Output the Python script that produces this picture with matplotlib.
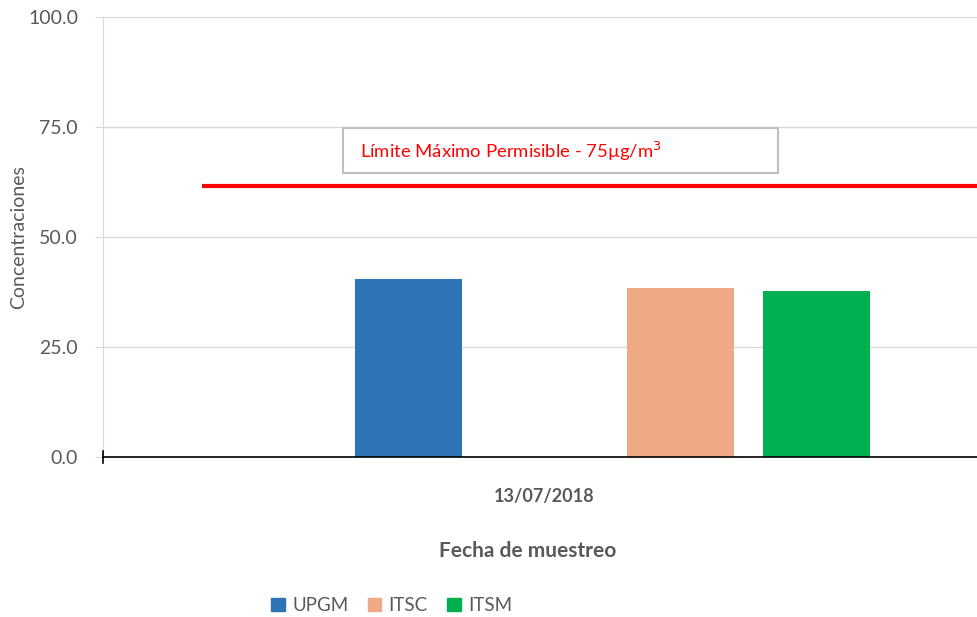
#!/usr/bin/env python3
"""Concentraciones por estación - 13/07/2018"""
import numpy as np
import matplotlib
matplotlib.use("Agg")
import matplotlib.pyplot as plt
from matplotlib.patches import Patch

plt.rcParams['font.family'] = ['Lato', 'DejaVu Sans']

# data
fecha = ['13/07/2018']
estaciones = ['UPGM', 'ITSC', 'ITSM']
valores = [40.5, 38.4, 37.7]
colores = ['#2E75B6', '#F0A987', '#00B050']
# the original has 5 series slots, two of them empty
slots = [1, 3, 4]
n_slots = 5
limite = 61.6
limite_texto = 'Límite Máximo Permisible - 75µg/m$^3$'
yticks = [0, 25, 50, 75, 100]

grey = '#595959'

fig = plt.figure(figsize=(9.77, 6.17), dpi=100)
ax = fig.add_axes([103 / 977, 1 - 457 / 617, 874 / 977, 440 / 617])

slot_w = 0.1556
bar_w = 0.1224
for name, val, col, s in zip(estaciones, valores, colores, slots):
    x = (s - (n_slots - 1) / 2) * slot_w + 0.005
    ax.bar(x, val, width=bar_w, color=col, zorder=3, label=name)

ax.set_xlim(-0.5, 0.5)
ax.set_ylim(0, 100)
ax.set_yticks(yticks)
ax.set_yticklabels([f'{v:.1f}' for v in yticks], color=grey, fontsize=14)
ax.tick_params(axis='y', length=6, color='#d9d9d9', pad=12)
ax.yaxis.grid(True, color='#d9d9d9', linewidth=1, zorder=0)
ax.set_xticks([0.005])
ax.set_xticklabels(fecha, fontsize=13, fontweight='bold', color=grey)
ax.tick_params(axis='x', length=0, pad=22)

for side in ['top', 'right']:
    ax.spines[side].set_visible(False)
ax.spines['left'].set_color('#d9d9d9')
ax.spines['bottom'].set_color('black')
ax.spines['bottom'].set_linewidth(1.2)
ax.spines['bottom'].set_zorder(4)
# small black tick at origin of x axis
ax.plot([-0.5, -0.5], [-1.4, 1.4], color='black', lw=1.2, clip_on=False, zorder=5)

# limit line
ax.plot([-0.387, 0.5], [limite, limite], color='red', lw=3, zorder=4,
        solid_capstyle='butt')
ax.text(-0.206, 69.4, limite_texto, color='red', fontsize=13.3, va='center',
        ha='left', zorder=6)
ax.add_patch(plt.Rectangle((-0.2254, 64.6), 0.4977, 10.2, fill=False,
                           ec='#bfbfbf', lw=1.5, zorder=5))

ax.set_ylabel('Concentraciones', color=grey, fontsize=14)
ax.yaxis.set_label_coords(-0.087, 0.5)
ax.set_xlabel('Fecha de muestreo', color=grey, fontsize=15, fontweight='bold')
ax.xaxis.set_label_coords(0.486, -0.19)

handles = [Patch(color=c) for c in colores]
fig.legend(handles, estaciones, loc='center', bbox_to_anchor=(0.401, 0.018),
           ncol=3, frameon=False, fontsize=13.5, handlelength=0.7,
           handleheight=0.7, handletextpad=0.4, columnspacing=1.05,
           labelcolor=grey)

fig.savefig('out.png', dpi=100)
